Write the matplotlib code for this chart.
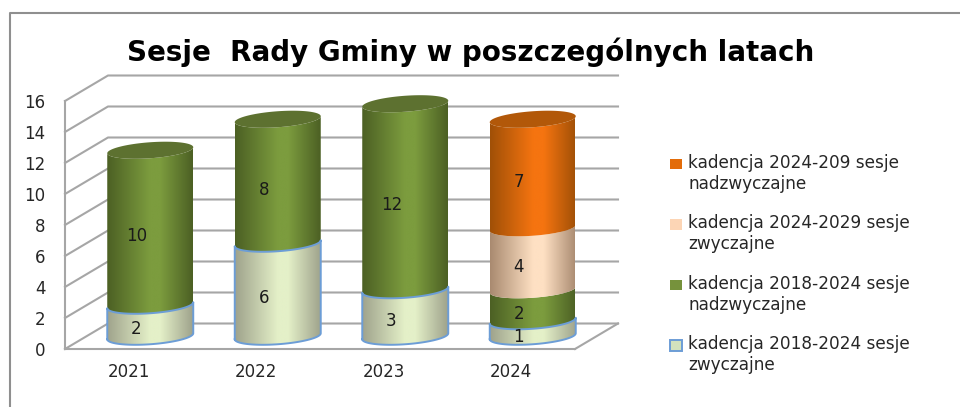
import numpy as np
import matplotlib
matplotlib.use("Agg")
import matplotlib.pyplot as plt
from matplotlib.colors import LinearSegmentedColormap
from matplotlib.patches import PathPatch, Patch, Polygon
from matplotlib.path import Path

years = ["2021", "2022", "2023", "2024"]
zwyczajne_2018 = [2, 6, 3, 1]
nadzwyczajne_2018 = [10, 8, 12, 2]
zwyczajne_2024 = [0, 0, 0, 4]
nadzwyczajne_2024 = [0, 0, 0, 7]
series_values = [zwyczajne_2018, nadzwyczajne_2018, zwyczajne_2024, nadzwyczajne_2024]
series_labels = [
    "kadencja 2018-2024 sesje\nzwyczajne",
    "kadencja 2018-2024 sesje\nnadzwyczajne",
    "kadencja 2024-2029 sesje\nzwyczajne",
    "kadencja 2024-209 sesje\nnadzwyczajne",
]
y_ticks = list(range(0, 17, 2))

# edge, middle, cap colour per series
shades = [
    ("#9fa38c", "#e4f0c8", None),
    ("#4c6024", "#7c9c3e", "#5d7130"),
    ("#a98a70", "#fee0c3", None),
    ("#a05007", "#f57410", "#b25809"),
]
swatches = ["#d3e2bd", "#76923c", "#fcd5b5", "#e36c09"]
outline = "#6c9dd6"
text_col = "#262626"
grid_col = "#a6a6a6"

W, H = 960, 407
fig = plt.figure(figsize=(W / 100, H / 100), dpi=100)
fig.patch.set_facecolor("white")

# axes = front plane of the fake 3d box
left, right, y0_px, y16_px = 65, 575, 349, 101
ax = fig.add_axes([left / W, 1 - y0_px / H, (right - left) / W, (y0_px - y16_px) / H])
ax.set_xlim(-0.5, 3.5)
ax.set_ylim(0, 16)
ax.patch.set_visible(False)
for side in ("top", "right"):
    ax.spines[side].set_visible(False)
for side in ("left", "bottom"):
    ax.spines[side].set_color(grid_col)
    ax.spines[side].set_linewidth(1.5)

px_x = (right - left) / 4
px_y = (y0_px - y16_px) / 16
dx = 43 / px_x   # depth of the box in data units
dy = 25.5 / px_y

ax.set_xticks(range(4), labels=years)
ax.set_yticks(y_ticks)
ax.tick_params(axis="both", length=0, labelsize=12, labelcolor=text_col)
ax.tick_params(axis="x", pad=10)
ax.tick_params(axis="y", pad=14)

# walls
for v in y_ticks:
    ax.plot([-0.5, -0.5 + dx, 3.5 + dx], [v, v + dy, v + dy], color=grid_col, lw=1.5,
            clip_on=False, zorder=1)
ax.plot([3.5, 3.5 + dx], [0, dy], color=grid_col, lw=1.5, clip_on=False, zorder=1)

half_w = 43 / px_x
tilt = 3 / px_y
minor = 8 / px_y
t_low = np.linspace(np.pi, 0, 60)
t_all = np.linspace(0, 2 * np.pi, 120)


def arc(cx, v, t):
    xs = cx + half_w * np.cos(t)
    ys = v + tilt * np.cos(t) - minor * np.sin(t)
    return np.column_stack([xs, ys])


def gradient_clip(path, edge, mid, x0, x1, y0, y1, z):
    cmap = LinearSegmentedColormap.from_list("c", [(0, edge), (0.5, mid), (0.62, mid), (1, edge)])
    grad = np.linspace(0, 1, 200).reshape(1, -1)
    im = ax.imshow(grad, cmap=cmap, extent=[x0, x1, y0, y1], aspect="auto", zorder=z,
                   interpolation="bilinear")
    patch = PathPatch(path, transform=ax.transData, fc="none", ec="none")
    ax.add_patch(patch)
    im.set_clip_path(patch)


for i in range(len(years)):
    cx = i + dx / 2
    base = dy / 2
    bottom = 0
    top_idx = max(s for s in range(4) if series_values[s][i] > 0)
    for s in range(4):
        val = series_values[s][i]
        if val == 0:
            continue
        lo = arc(cx, base + bottom, t_low)
        hi = arc(cx, base + bottom + val, t_low)
        verts = np.vstack([lo, hi[::-1], lo[:1]])
        path = Path(verts, closed=False)
        z = 3 + s * 0.1
        gradient_clip(path, shades[s][0], shades[s][1], cx - half_w, cx + half_w,
                      base + bottom - 2, base + bottom + val + 2, z)
        if s == 0:
            ax.plot(verts[:, 0], verts[:, 1], color=outline, lw=1.4, zorder=z + 0.5,
                    clip_on=False)
        if s == top_idx:
            ax.add_patch(Polygon(arc(cx, base + bottom + val, t_all), closed=True,
                                 fc=shades[s][2], ec="none", zorder=z + 0.05, clip_on=False))
        ax.annotate(str(val), (cx, base + bottom + val / 2), xytext=(-10, -6),
                    textcoords="offset points", ha="center", va="center", fontsize=12,
                    color="#1a1a1a", zorder=6)
        bottom += val

# imshow resets limits
ax.set_xlim(-0.5, 3.5)
ax.set_ylim(0, 16)

fig.text(471 / W, 1 - 52 / H, "Sesje  Rady Gminy w poszczególnych latach", ha="center",
         va="center", fontsize=20, fontweight="bold", color="black")

handles = [Patch(fc=swatches[3], ec="none"), Patch(fc=swatches[2], ec="none"),
           Patch(fc=swatches[1], ec="none"), Patch(fc=swatches[0], ec=outline, lw=1.4)]
leg = fig.legend(handles, series_labels[::-1], loc="upper left",
                 bbox_to_anchor=(670 / W, 1 - 154 / H), frameon=False, fontsize=12.2,
                 labelcolor=text_col, handlelength=0.72, handleheight=0.6,
                 handletextpad=0.35, labelspacing=1.28, borderpad=0, borderaxespad=0)
for t in leg.get_texts():
    t.set_linespacing(1.2)
# swatch sits on the first text line, not between the two
for h in leg.legend_handles:
    h.set_y(h.get_y() + 7.5)

# outer frame of the pasted chart
fig.add_artist(plt.Line2D([9.5 / W, 9.5 / W, 1], [0, 1 - 12.5 / H, 1 - 12.5 / H],
                          color="#8f8f8f", lw=1.5))

fig.savefig("out.png", dpi=100)
plt.close(fig)
